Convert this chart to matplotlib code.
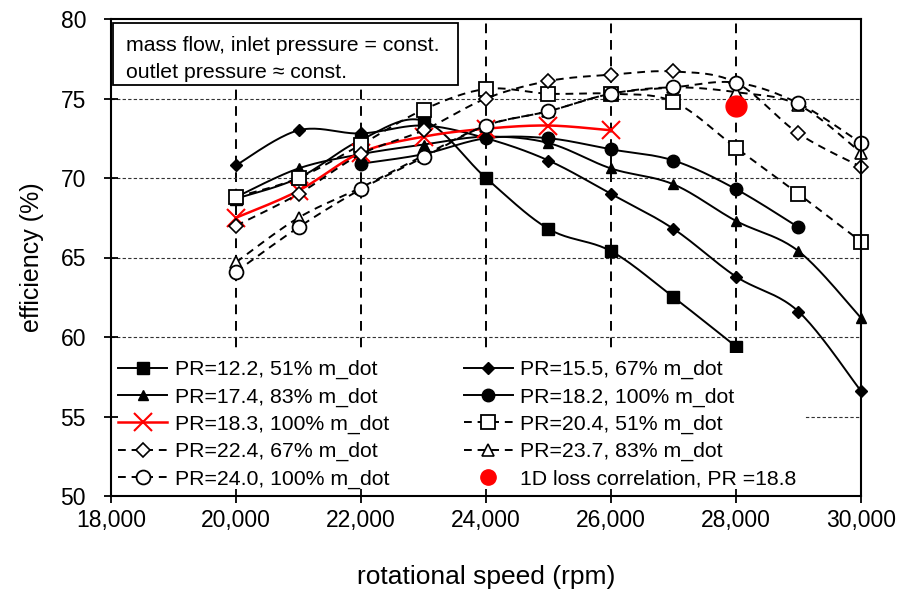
import numpy as np
import matplotlib
matplotlib.use("Agg")
import matplotlib.pyplot as plt
from matplotlib.ticker import FuncFormatter
from matplotlib.patches import Rectangle

plt.rcParams['font.family'] = ['Liberation Sans', 'DejaVu Sans']

# ---------------- data ----------------
rpm_all = [20000, 21000, 22000, 23000, 24000, 25000, 26000, 27000, 28000, 29000, 30000]

rpm_122 = [20000, 21000, 22000, 23000, 24000, 25000, 26000, 27000, 28000]
eff_122 = [68.7, 70.0, 72.4, 73.6, 70.0, 66.8, 65.4, 62.5, 59.4]

rpm_155 = rpm_all
eff_155 = [70.8, 73.0, 72.8, 73.3, 72.5, 71.1, 69.0, 66.8, 63.8, 61.6, 56.6]

rpm_174 = rpm_all
eff_174 = [68.8, 70.6, 71.5, 72.1, 72.6, 72.2, 70.6, 69.6, 67.3, 65.4, 61.2]

rpm_182 = [22000, 23000, 24000, 25000, 26000, 27000, 28000, 29000]
eff_182 = [70.9, 71.5, 72.5, 72.5, 71.8, 71.1, 69.3, 66.9]

rpm_183 = [20000, 21000, 22000, 23000, 24000, 25000, 26000]
eff_183 = [67.5, 69.2, 71.6, 72.6, 73.1, 73.3, 73.0]

rpm_204 = rpm_all
eff_204 = [68.8, 70.0, 72.1, 74.3, 75.6, 75.3, 75.3, 74.8, 71.9, 69.0, 66.0]

rpm_224 = rpm_all
eff_224 = [67.0, 69.0, 71.5, 73.0, 75.0, 76.1, 76.5, 76.7, 76.0, 72.8, 70.7]

rpm_237 = rpm_all
eff_237 = [64.7, 67.5, 69.4, 71.4, 73.3, 74.2, 75.3, 75.7, 75.4, 74.6, 71.6]

rpm_240 = rpm_all
eff_240 = [64.1, 66.9, 69.3, 71.3, 73.3, 74.2, 75.3, 75.7, 76.0, 74.7, 72.2]

rpm_1d = [28000]
eff_1d = [74.5]

labels = ["PR=12.2, 51% m_dot", "PR=15.5, 67% m_dot", "PR=17.4, 83% m_dot",
          "PR=18.2, 100% m_dot", "PR=18.3, 100% m_dot", "PR=20.4, 51% m_dot",
          "PR=22.4, 67% m_dot", "PR=23.7, 83% m_dot", "PR=24.0, 100% m_dot",
          "1D loss correlation, PR =18.8"]

x_ticks = [18000, 20000, 22000, 24000, 26000, 28000, 30000]
y_ticks = [50, 55, 60, 65, 70, 75, 80]
v_grid = [20000, 22000, 24000, 26000, 28000]
h_grid = [55, 60, 65, 70, 75]


def smooth(x, y, n=24):
    """Excel-like smoothed line (Catmull-Rom Bezier) through the points."""
    p = np.column_stack([np.asarray(x, float), np.asarray(y, float)])
    if len(p) < 3:
        return p[:, 0], p[:, 1]
    ext = np.vstack([p[0], p, p[-1]])
    t = np.linspace(0, 1, n)[:, None]
    out = []
    for i in range(1, len(ext) - 2):
        p0, p1, p2, p3 = ext[i - 1], ext[i], ext[i + 1], ext[i + 2]
        c1 = p1 + (p2 - p0) / 6.0
        c2 = p2 - (p3 - p1) / 6.0
        seg = ((1 - t) ** 3) * p1 + 3 * ((1 - t) ** 2) * t * c1 + 3 * (1 - t) * t ** 2 * c2 + t ** 3 * p2
        out.append(seg if i == 1 else seg[1:])
    s = np.vstack(out)
    return s[:, 0], s[:, 1]


fig = plt.figure(figsize=(9.01, 5.89), dpi=100)
ax = fig.add_axes([111 / 901, 93 / 589, 750 / 901, 477 / 589])

# grid
for g in v_grid:
    ax.axvline(g, color='black', lw=1.4, ls=(0, (5, 3.5)), zorder=1)
for g in h_grid:
    ax.axhline(g, color='#333333', lw=0.8, ls=(0, (3, 2)), zorder=1)

series = [
    (rpm_122, eff_122, dict(marker='s', ms=9, mfc='black', mec='black'), '-', 'black'),
    (rpm_155, eff_155, dict(marker='D', ms=6.5, mfc='black', mec='black'), '-', 'black'),
    (rpm_174, eff_174, dict(marker='^', ms=7, mfc='black', mec='black'), '-', 'black'),
    (rpm_182, eff_182, dict(marker='o', ms=9, mfc='black', mec='black'), '-', 'black'),
    (rpm_183, eff_183, dict(marker='x', ms=13, mfc='red', mec='red', mew=1.5), '-', 'red'),
    (rpm_204, eff_204, dict(marker='s', ms=9.5, mfc='white', mec='black', mew=1.3), '--', 'black'),
    (rpm_224, eff_224, dict(marker='D', ms=7.5, mfc='white', mec='black', mew=1.2), '--', 'black'),
    (rpm_237, eff_237, dict(marker='^', ms=8.5, mfc='white', mec='black', mew=1.2), '--', 'black'),
    (rpm_240, eff_240, dict(marker='o', ms=10, mfc='white', mec='black', mew=1.3), '--', 'black'),
]

handles = []
for i, (xs, ys, mk, ls, col) in enumerate(series):
    sx, sy = smooth(xs, ys)
    lw = 1.8 if col == 'red' else 1.4
    dash = (0, (4, 3)) if ls == '--' else '-'
    ax.plot(sx, sy, color=col, lw=lw, ls=dash, zorder=3 + i)
    ax.plot(xs, ys, ls='none', zorder=3.5 + i, clip_on=False, **mk)
    h, = ax.plot([], [], color=col, lw=lw, ls=dash, **mk)
    handles.append(h)

ax.plot(rpm_1d, eff_1d, ls='none', marker='o', ms=15, mfc='red', mec='red', zorder=20)
h1d, = ax.plot([], [], ls='none', marker='o', ms=11, mfc='red', mec='red')
handles.append(h1d)

ax.set_xlim(18000, 30000)
ax.set_ylim(50, 80)
ax.set_xticks(x_ticks)
ax.set_yticks(y_ticks)
ax.xaxis.set_major_formatter(FuncFormatter(lambda v, p: f"{int(v):,}"))
ax.tick_params(axis='both', direction='inout', length=10, width=1.3, labelsize=16.5, colors='black')
ax.tick_params(axis='x', pad=4)
ax.tick_params(axis='y', pad=13)
for s in ax.spines.values():
    s.set_linewidth(1.5)
    s.set_color('black')
    s.set_zorder(50)
ax.xaxis.set_zorder(50)
ax.yaxis.set_zorder(50)

ax.set_xlabel("rotational speed (rpm)", fontsize=19, labelpad=24)
ax.set_ylabel("efficiency (%)", fontsize=18, labelpad=12)

# legend (column-major order)
order = [0, 2, 4, 6, 8, 1, 3, 5, 7, 9]
leg = ax.legend([handles[i] for i in order], [labels[i] for i in order],
                ncol=2, loc='lower left', bbox_to_anchor=(0.0, 0.0),
                fontsize=15.3, frameon=True, framealpha=1, facecolor='white',
                edgecolor='none', fancybox=False, borderaxespad=0.0,
                borderpad=0.35, handlelength=2.3, handletextpad=0.35,
                labelspacing=0.38, columnspacing=3.5)
leg.set_zorder(30)

# annotation box
ax.add_patch(Rectangle((0.003, 0.8616), 0.46, 0.13, transform=ax.transAxes,
                       facecolor='white', edgecolor='black', lw=1.3, zorder=31))
ax.text(0.02, 0.945, "mass flow, inlet pressure = const.", transform=ax.transAxes,
        fontsize=15.3, va='center', ha='left', zorder=32)
ax.text(0.02, 0.887, "outlet pressure \u2248 const.", transform=ax.transAxes,
        fontsize=15.3, va='center', ha='left', zorder=32)

fig.savefig("out.png", dpi=100)
